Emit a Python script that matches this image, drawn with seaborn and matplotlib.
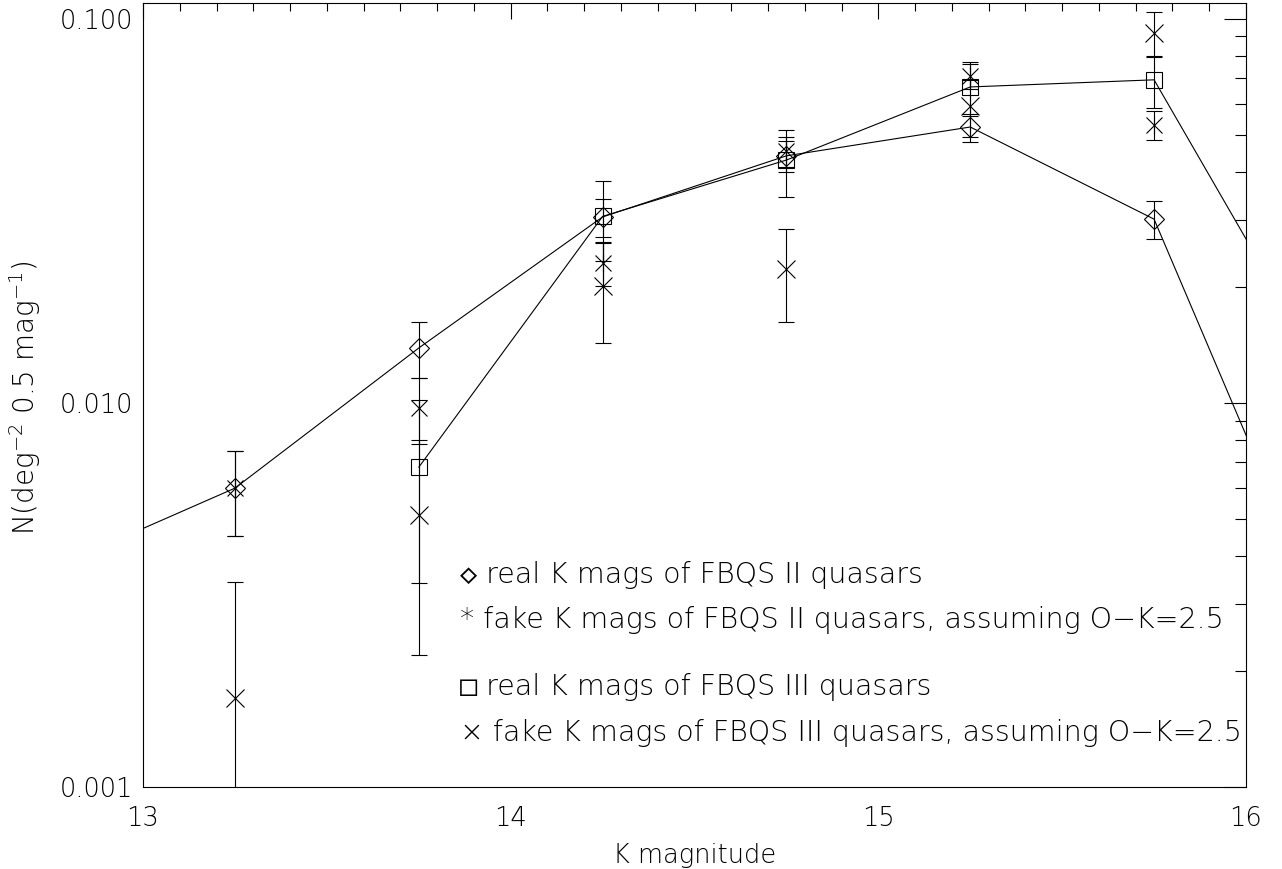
import matplotlib
matplotlib.use('Agg')
import matplotlib.pyplot as plt
import matplotlib.ticker as mticker
import seaborn as sns
import pandas as pd

# K magnitude bins (0.5 mag wide)
kmag = [12.75, 13.25, 13.75, 14.25, 14.75, 15.25, 15.75, 16.25]

# real K mags, FBQS II (diamonds, joined)
real2 = [0.0037, 0.0060, 0.0139, 0.0305, 0.0440, 0.0523, 0.0301, 0.00226]
real2_err = [0.0012, 0.0015, 0.0023, 0.0034, 0.0041, 0.0044, 0.0034, 0.0009]

# fake K mags, FBQS II (asterisks)
kmag_fake = [13.25, 13.75, 14.25, 14.75, 15.25, 15.75]
fake2 = [0.0060, 0.0097, 0.0232, 0.0453, 0.0710, 0.0530]
fake2_err = [0.0015, 0.0019, 0.0030, 0.0041, 0.0052, 0.0045]

# real K mags, FBQS III (squares, joined)
kmag_real3 = [13.75, 14.25, 14.75, 15.25, 15.75, 16.25]
real3 = [0.0068, 0.0306, 0.0429, 0.0665, 0.0694, 0.0103]
real3_err = [0.0034, 0.0072, 0.0086, 0.0106, 0.0108, 0.0042]

# fake K mags, FBQS III (crosses)
fake3 = [0.00171, 0.0051, 0.0202, 0.0223, 0.0593, 0.0919]
fake3_err = [0.0017, 0.0029, 0.0059, 0.0061, 0.0100, 0.0125]

legend_lines = [
    '\u25c7 real K mags of FBQS II quasars',
    '* fake K mags of FBQS II quasars, assuming O\u2212K=2.5',
    '\u25a1 real K mags of FBQS III quasars',
    '\u00d7 fake K mags of FBQS III quasars, assuming O\u2212K=2.5',
]

sns.set_style('white')
plt.rcParams['font.family'] = ['DejaVu Sans', 'DejaVu Sans Mono', 'Noto Sans CJK JP']
plt.rcParams['font.weight'] = 'light'
plt.rcParams['axes.labelweight'] = 'light'
plt.rcParams['mathtext.fontset'] = 'dejavusans'
plt.rcParams['text.color'] = 'black'

fig = plt.figure(figsize=(12.82, 8.69), dpi=100)
ax = fig.add_axes([143 / 1282, 1 - 787 / 869, 1103 / 1282, 784 / 869])
ax.set_yscale('log')

lw = 0.8
sns.lineplot(x=kmag, y=real2, ax=ax, color='black', lw=lw, errorbar=None)
sns.lineplot(x=kmag_real3, y=real3, ax=ax, color='black', lw=lw, errorbar=None)

eb = dict(fmt='none', ecolor='black', elinewidth=lw, capsize=5.5, capthick=lw)
ax.errorbar(kmag, real2, yerr=real2_err, **eb)
ax.errorbar(kmag_fake, fake2, yerr=fake2_err, **eb)
ax.errorbar(kmag_real3, real3, yerr=real3_err, **eb)
ax.errorbar(kmag_fake, fake3, yerr=fake3_err, **eb)

mk = dict(color='black', linestyle='none', markerfacecolor='none',
          markeredgecolor='black', markeredgewidth=lw)
ax.plot(kmag, real2, marker='D', markersize=10, **mk)
ax.plot(kmag_fake, fake2, marker='x', markersize=12, **mk)
ax.plot(kmag_fake, fake2, marker='|', markersize=13, **mk)
ax.plot(kmag_real3, real3, marker='s', markersize=12, **mk)
ax.plot(kmag_fake, fake3, marker='x', markersize=13, **mk)

ax.set_xlim(13, 16)
ax.set_ylim(0.001, 0.110)

ax.xaxis.set_major_locator(mticker.MultipleLocator(1))
ax.xaxis.set_minor_locator(mticker.MultipleLocator(0.1))
ax.xaxis.set_major_formatter(mticker.FormatStrFormatter('%d'))
ax.yaxis.set_major_locator(mticker.FixedLocator([0.001, 0.01, 0.1]))
ax.yaxis.set_major_formatter(mticker.FormatStrFormatter('%.3f'))
ax.yaxis.set_minor_locator(mticker.LogLocator(base=10, subs=range(2, 10)))
ax.yaxis.set_minor_formatter(mticker.NullFormatter())

ax.tick_params(axis='both', which='both', direction='in', top=True, right=True,
               width=0.8, colors='black', labelsize=18.5)
ax.tick_params(axis='x', which='major', length=11.3, pad=14)
ax.tick_params(axis='x', which='minor', length=5.6)
ax.tick_params(axis='y', which='major', length=15.8, pad=7)
ax.tick_params(axis='y', which='minor', length=7.9)
for s in ax.spines.values():
    s.set_linewidth(0.8)
    s.set_color('black')

ax.set_xlabel('K magnitude', fontsize=18.5, labelpad=8, color='black')
fig.text(25 / 1282, 1 - 398 / 869, r'N(deg$^{-2}$ 0.5 mag$^{-1}$)', rotation=90,
         fontsize=20, ha='center', va='center')

leg_y = [575, 620, 687, 733]
for txt, yp in zip(legend_lines, leg_y):
    ax.text((460 - 143) / 1103, (787 - yp) / 784, txt, transform=ax.transAxes,
            fontsize=20.5, ha='left', va='center')

fig.savefig('out.png', dpi=100)
